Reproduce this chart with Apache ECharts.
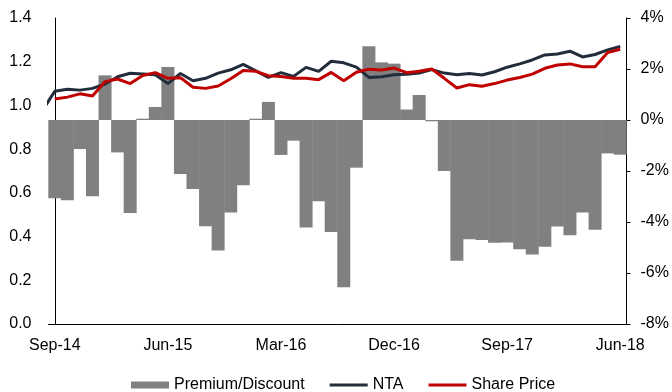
<!DOCTYPE html>
<html>
<head>
<meta charset="utf-8">
<script src="https://cdn.jsdelivr.net/npm/echarts@6/dist/echarts.min.js"></script>
<style>
html,body{margin:0;padding:0;background:#fff;}
#chart{width:672px;height:392px;}
</style>
</head>
<body>
<div id="chart"></div>
<script>
const months = ['Sep-14','Oct-14','Nov-14','Dec-14','Jan-15','Feb-15','Mar-15','Apr-15','May-15','Jun-15',
  'Jul-15','Aug-15','Sep-15','Oct-15','Nov-15','Dec-15','Jan-16','Feb-16','Mar-16','Apr-16',
  'May-16','Jun-16','Jul-16','Aug-16','Sep-16','Oct-16','Nov-16','Dec-16','Jan-17','Feb-17',
  'Mar-17','Apr-17','May-17','Jun-17','Jul-17','Aug-17','Sep-17','Oct-17','Nov-17','Dec-17',
  'Jan-18','Feb-18','Mar-18','Apr-18','May-18','Jun-18'];

// Premium/Discount (%), right axis
const premiumDiscount = [-3.07,-3.15,-1.14,-2.99,1.75,-1.27,-3.65,0.05,0.51,2.08,
  -2.12,-2.71,-4.17,-5.12,-3.63,-2.56,0.05,0.71,-1.37,-0.81,
  -4.22,-3.19,-4.39,-6.56,-1.87,2.89,2.26,2.21,0.41,0.98,
  -0.05,-2.0,-5.52,-4.68,-4.71,-4.81,-4.80,-5.07,-5.27,-4.97,
  -4.18,-4.52,-3.63,-4.30,-1.31,-1.36];

// NTA, left axis: first value is Aug-14 (one month before the first category)
const ntaStartOffset = -1;
const nta = [0.975,
  1.065,1.074,1.07,1.078,1.098,1.131,1.147,1.144,1.14,1.10,
  1.146,1.113,1.124,1.148,1.163,1.188,1.158,1.128,1.15,1.133,
  1.174,1.156,1.202,1.195,1.175,1.128,1.131,1.14,1.143,1.148,
  1.164,1.148,1.14,1.146,1.139,1.154,1.175,1.19,1.208,1.231,
  1.235,1.248,1.222,1.233,1.254,1.27];

// Share Price, left axis
const sharePrice = [1.029,1.038,1.053,1.043,1.109,1.121,1.10,1.137,1.15,1.124,
  1.127,1.083,1.078,1.089,1.122,1.16,1.156,1.136,1.132,1.124,
  1.124,1.118,1.151,1.113,1.152,1.166,1.162,1.171,1.15,1.156,
  1.167,1.124,1.08,1.095,1.088,1.10,1.116,1.128,1.143,1.17,
  1.185,1.19,1.177,1.177,1.242,1.257];

const leftTicks = {min:0, max:1.4, interval:0.2};
const rightTicks = {min:-8, max:4, interval:2};

const FONT = 'Liberation Sans, Arial, sans-serif';
const chart = echarts.init(document.getElementById('chart'), null, {renderer:'canvas'});
const lineIcon = 'path://M0,0H38V3H0Z';

const option = {
  animation: false,
  textStyle: {fontFamily: FONT},
  grid: {left: 48.5, right: 45.5, top: 18, bottom: 68, containLabel: false, outerBoundsMode: 'none'},
  legend: {
    left: 126, top: 372,
    itemWidth: 38, itemHeight: 7, itemGap: 25, itemTextGap: 3,
    textStyle: {fontFamily: FONT, fontSize: 16, color: '#000'},
    data: [{name:'Premium/Discount', icon:'rect'}, {name:'NTA', icon: lineIcon}, {name:'Share Price', icon: lineIcon}]
  },
  xAxis: [
    {
      type: 'category', data: months, boundaryGap: true,
      axisLine: {show: true, onZero: false, lineStyle: {color: '#000', width: 1}},
      axisTick: {show: false},
      axisLabel: {interval: 8, fontSize: 16, color: '#000', fontFamily: FONT, margin: 14},
      splitLine: {show: false}
    },
    {
      type: 'value', min: -0.5, max: months.length - 0.5, show: false,
      splitLine: {show: false}
    }
  ],
  yAxis: [
    {
      type: 'value', position: 'left', min: leftTicks.min, max: leftTicks.max, interval: leftTicks.interval,
      axisLine: {show: true, lineStyle: {color: '#000', width: 1}},
      axisTick: {show: false},
      axisLabel: {fontSize: 16, color: '#000', fontFamily: FONT, margin: 17, formatter: v => v.toFixed(1)},
      splitLine: {show: false}
    },
    {
      type: 'value', position: 'right', min: rightTicks.min, max: rightTicks.max, interval: rightTicks.interval,
      axisLine: {show: true, lineStyle: {color: '#000', width: 1}},
      axisTick: {show: true, inside: false, length: 4, lineStyle: {color: '#000'}},
      axisLabel: {fontSize: 16, color: '#000', fontFamily: FONT, margin: 14, formatter: v => v + '%'},
      splitLine: {show: false}
    }
  ],
  series: [
    {
      name: 'Premium/Discount', type: 'bar', xAxisIndex: 1, yAxisIndex: 1,
      data: premiumDiscount.map((v, i) => [i, v]), barWidth: 13,
      itemStyle: {color: '#808080'},
      z: 1
    },
    {
      name: 'NTA', type: 'line', xAxisIndex: 1, yAxisIndex: 0,
      data: nta.map((v, i) => [i + ntaStartOffset, v]),
      symbol: 'none', clip: true,
      lineStyle: {color: '#222d3b', width: 3},
      itemStyle: {color: '#222d3b'},
      z: 3
    },
    {
      name: 'Share Price', type: 'line', xAxisIndex: 1, yAxisIndex: 0,
      data: sharePrice.map((v, i) => [i, v]),
      symbol: 'none', clip: true,
      lineStyle: {color: '#c00000', width: 3},
      itemStyle: {color: '#c00000'},
      z: 4
    }
  ]
};
chart.setOption(option);
</script>
</body>
</html>
